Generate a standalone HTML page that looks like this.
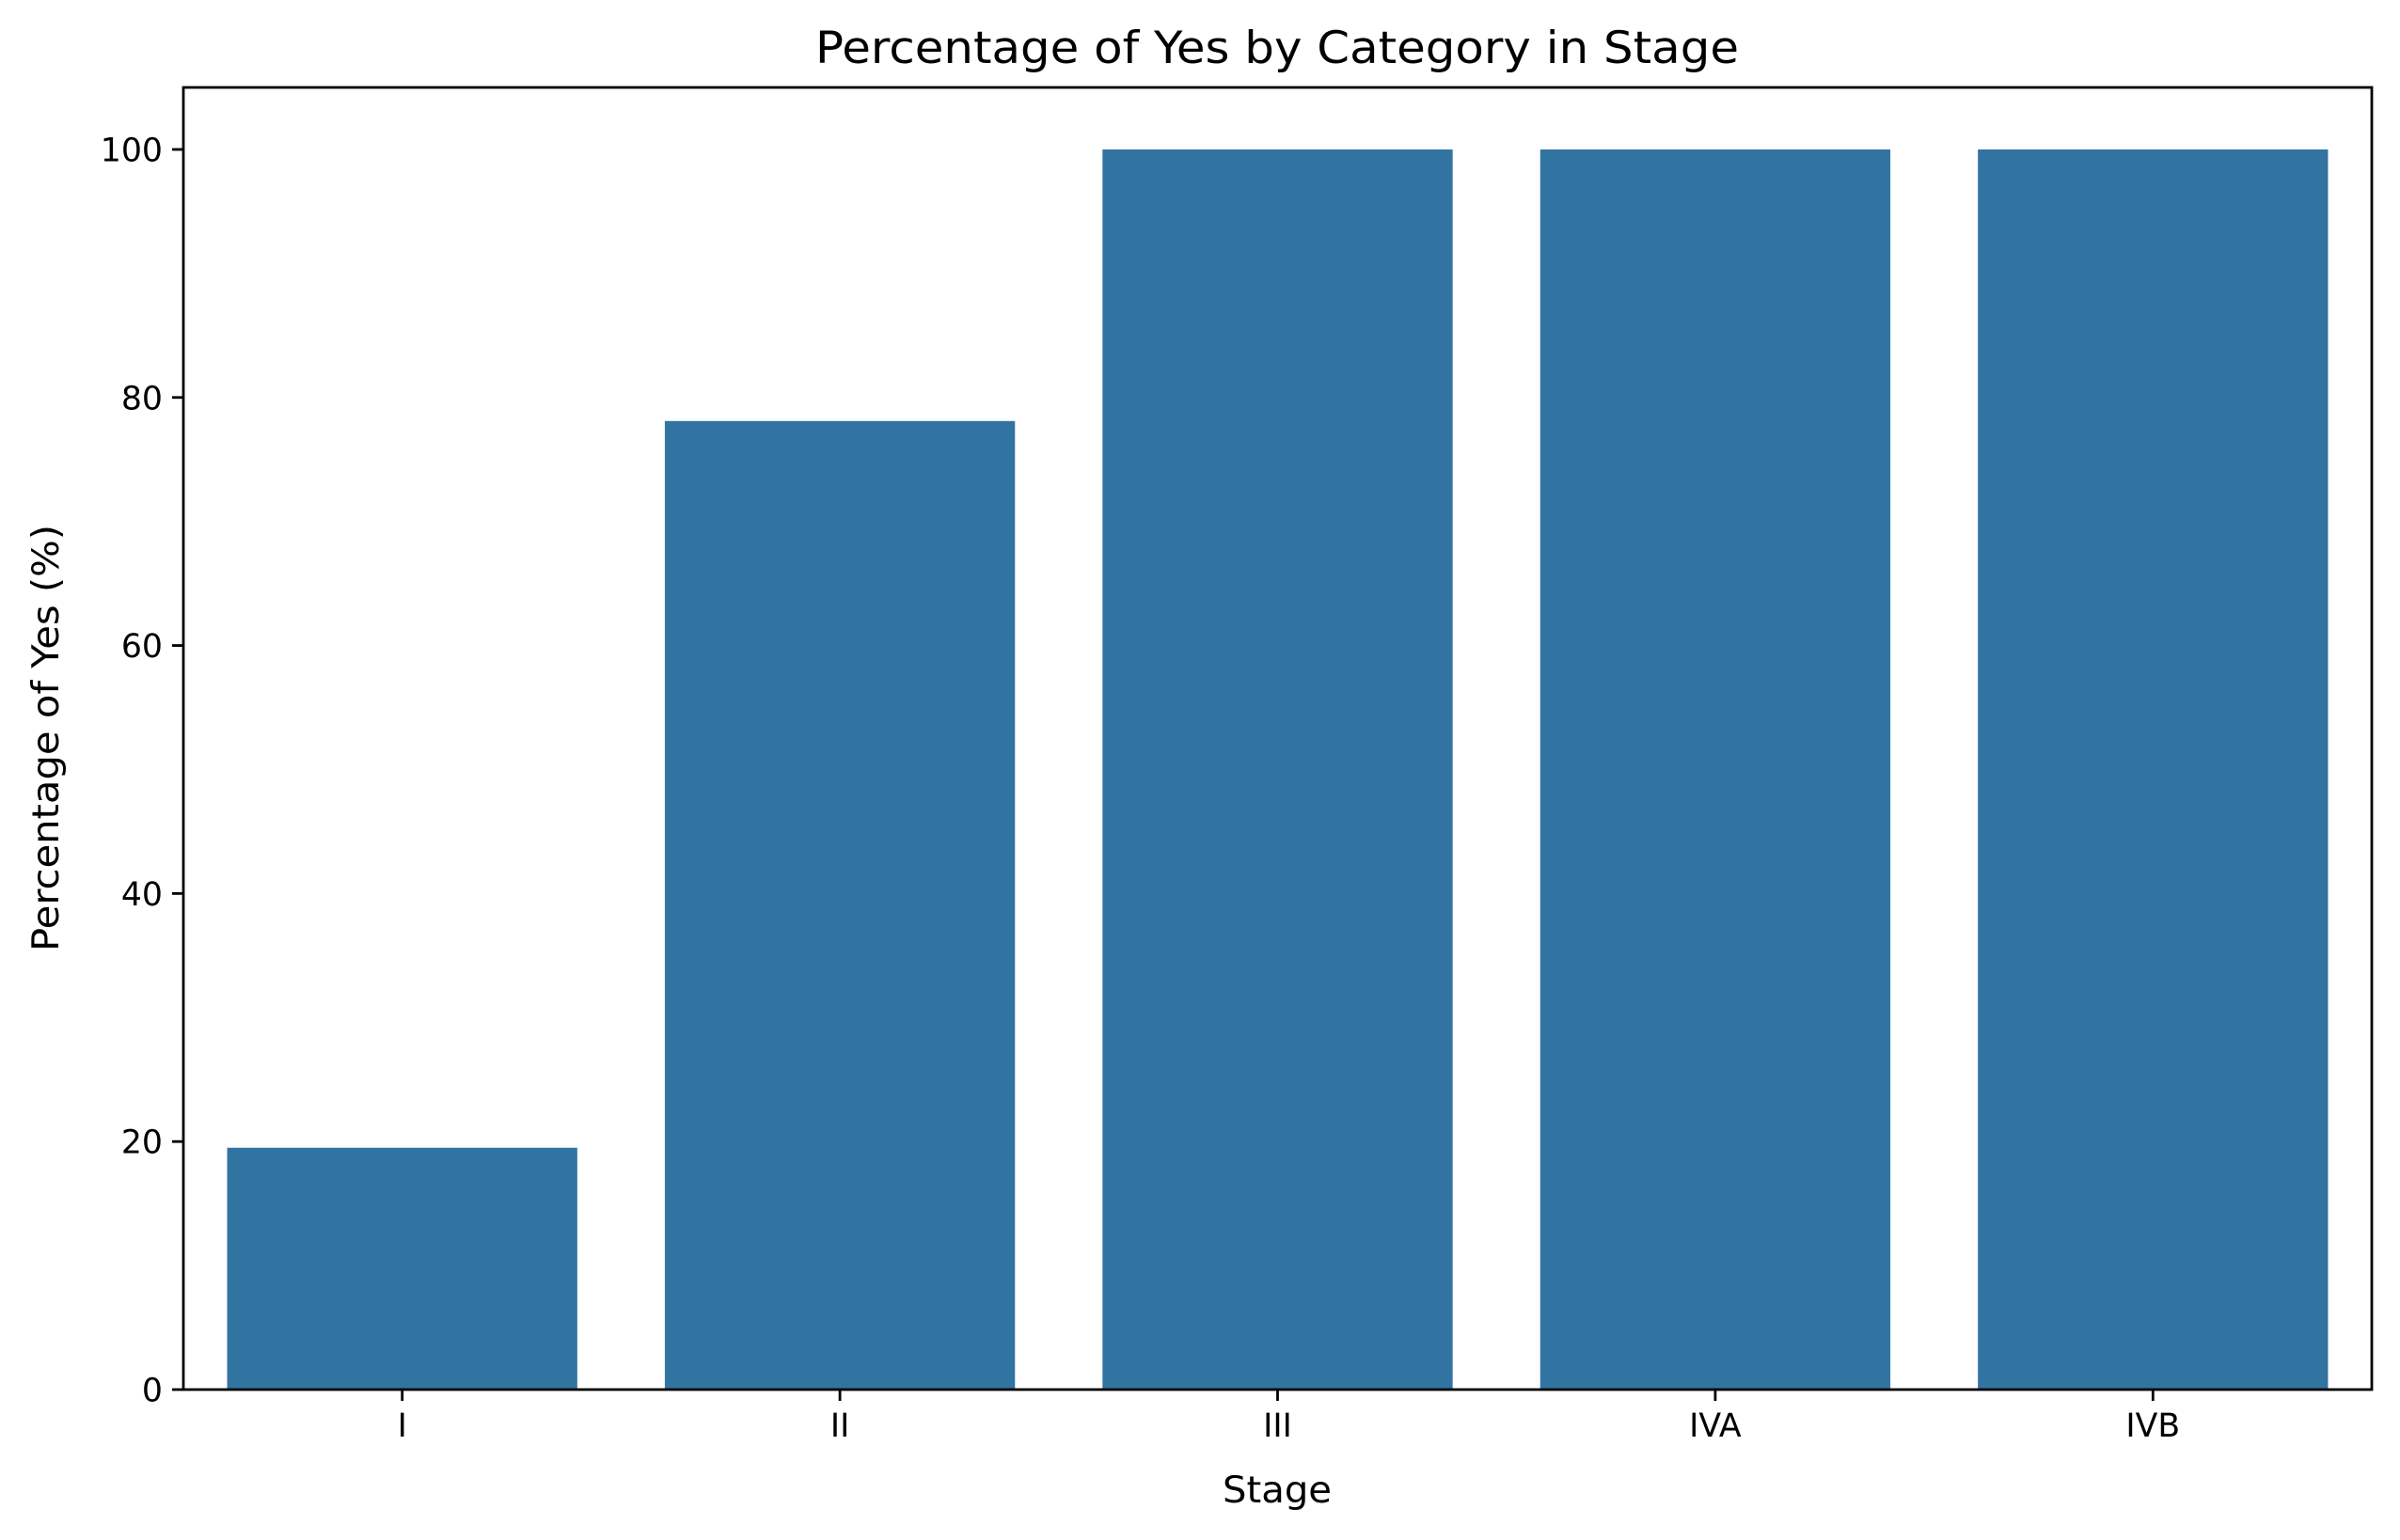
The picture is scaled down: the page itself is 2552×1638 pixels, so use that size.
<!DOCTYPE html>
<html><head><meta charset="utf-8"><style>
html,body{margin:0;padding:0;background:#fff;}
svg{display:block;font-family:"DejaVu Sans","Liberation Sans",sans-serif;}
</style></head><body>
<svg id="chart" width="2552" height="1638" viewBox="0 0 2552 1638" xmlns="http://www.w3.org/2000/svg">
<rect width="2552" height="1638" fill="#fff"/>
<text x="1358" y="67" text-anchor="middle" font-size="47" textLength="982" lengthAdjust="spacingAndGlyphs">Percentage of Yes by Category in Stage</text>
<g id="bars"></g>
<g id="axes"></g>
<text x="1358" y="1598" text-anchor="middle" font-size="39" textLength="116" lengthAdjust="spacingAndGlyphs">Stage</text>
<text x="0" y="0" transform="translate(62,785) rotate(-90)" text-anchor="middle" font-size="39" textLength="454" lengthAdjust="spacingAndGlyphs">Percentage of Yes (%)</text>
</svg>
<script>
const categories = ["I", "II", "III", "IVA", "IVB"];
const values = [19.5, 78.1, 100, 100, 100];
const yTicks = [0, 20, 40, 60, 80, 100];

const L = 195, R = 2522, T = 93, B = 1478;
const yMin = 0, yMax = 105;
const NS = "http://www.w3.org/2000/svg";
function y(v){ return B - (v - yMin) / (yMax - yMin) * (B - T); }
const band = (R - L) / categories.length;
function xc(i){ return L + band * (i + 0.5); }
function mk(tag, attrs){ const e = document.createElementNS(NS, tag); for (const k in attrs) e.setAttribute(k, attrs[k]); return e; }

const bars = document.getElementById('bars');
const axes = document.getElementById('axes');
categories.forEach((c, i) => {
  const w = band * 0.8;
  const r = mk('rect', {x: xc(i) - w/2, y: y(values[i]), width: w, height: y(0) - y(values[i]), fill: '#3274a1'});
  
  
  bars.appendChild(r);
  const t = mk('line', {x1: xc(i), x2: xc(i), y1: B, y2: B + 12, stroke: '#000', 'stroke-width': 2.8});
  
  
  axes.appendChild(t);
  const lb = mk('text', {x: xc(i), y: B + 50, 'text-anchor': 'middle', 'font-size': 34.7});
  lb.textContent = c;
  
  
  axes.appendChild(lb);
});
yTicks.forEach(v => {
  const t = mk('line', {x1: L - 12, x2: L, y1: y(v), y2: y(v), stroke: '#000', 'stroke-width': 2.8});
  
  
  axes.appendChild(t);
  const lb = mk('text', {x: L - 22, y: y(v) + 12.5, 'text-anchor': 'end', 'font-size': 34.7});
  lb.textContent = v;
  
  
  axes.appendChild(lb);
});
const frame = mk('rect', {x: L, y: T, width: R - L, height: B - T, fill: 'none', stroke: '#000', 'stroke-width': 2.8});


axes.appendChild(frame);
</script>
</body></html>
